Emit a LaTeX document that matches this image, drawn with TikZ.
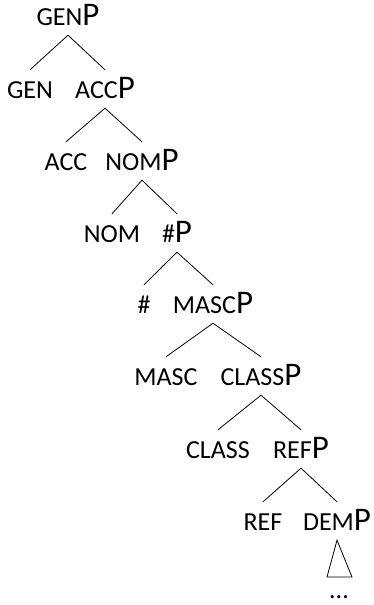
\documentclass[tikz,border=0pt]{standalone}
\usepackage{fontspec}
\setmainfont{Carlito}
\newcommand{\smc}[1]{{\fontsize{26}{26}\selectfont #1}}
\newcommand{\phr}[1]{\smc{#1}{\fontsize{33}{33}\selectfont P}}
\begin{document}
\begin{tikzpicture}[x=1pt, y=-1pt,
                every node/.style={anchor=base, inner xsep=0pt, inner ysep=10pt, text height=18pt, text depth=0pt},
                edge_style/.style={draw=black, line width=0.8pt}]
                \useasboundingbox (0,0) rectangle (373,605);
                \node (genp) at (68, 25) {\phr{GEN}};
                \node (gen) at (30, 98) {\smc{GEN}};
                \node (accp) at (105, 98) {\phr{ACC}};
                \node (acc) at (66, 170) {\smc{ACC}};
                \node (nomp) at (142, 170) {\phr{NOM}};
                \node (nom) at (112, 242) {\smc{NOM}};
                \node (nump) at (177, 242) {\phr{\#}};
                \node (num) at (144, 313) {\smc{\#}};
                \node (mascp) at (213, 313) {\phr{MASC}};
                \node (masc) at (166, 385) {\smc{MASC}};
                \node (classp) at (261, 385) {\phr{CLASS}};
                \node (class) at (218, 458) {\smc{CLASS}};
                \node (refp) at (301, 458) {\phr{REF}};
                \node (ref) at (263, 530) {\smc{REF}};
                \node (demp) at (337, 530) {\phr{DEM}};
                \node[text height=6pt, inner ysep=0pt] (dots) at (339, 598) {\smc{...}};
                \coordinate (tl) at (327, 577);
                \coordinate (tr) at (352, 577);
                \draw[edge_style] (genp.south) edge (gen.north) {};
                \draw[edge_style] (genp.south) edge (accp.north) {};
                \draw[edge_style] (accp.south) edge (acc.north) {};
                \draw[edge_style] (accp.south) edge (nomp.north) {};
                \draw[edge_style] (nomp.south) edge (nom.north) {};
                \draw[edge_style] (nomp.south) edge (nump.north) {};
                \draw[edge_style] (nump.south) edge (num.north) {};
                \draw[edge_style] (nump.south) edge (mascp.north) {};
                \draw[edge_style] (mascp.south) edge (masc.north) {};
                \draw[edge_style] (mascp.south) edge (classp.north) {};
                \draw[edge_style] (classp.south) edge (class.north) {};
                \draw[edge_style] (classp.south) edge (refp.north) {};
                \draw[edge_style] (refp.south) edge (ref.north) {};
                \draw[edge_style] (refp.south) edge (demp.north) {};
                \draw[edge_style] (demp.south) -- (tl) -- (tr) -- cycle;
            \end{tikzpicture}
\end{document}
